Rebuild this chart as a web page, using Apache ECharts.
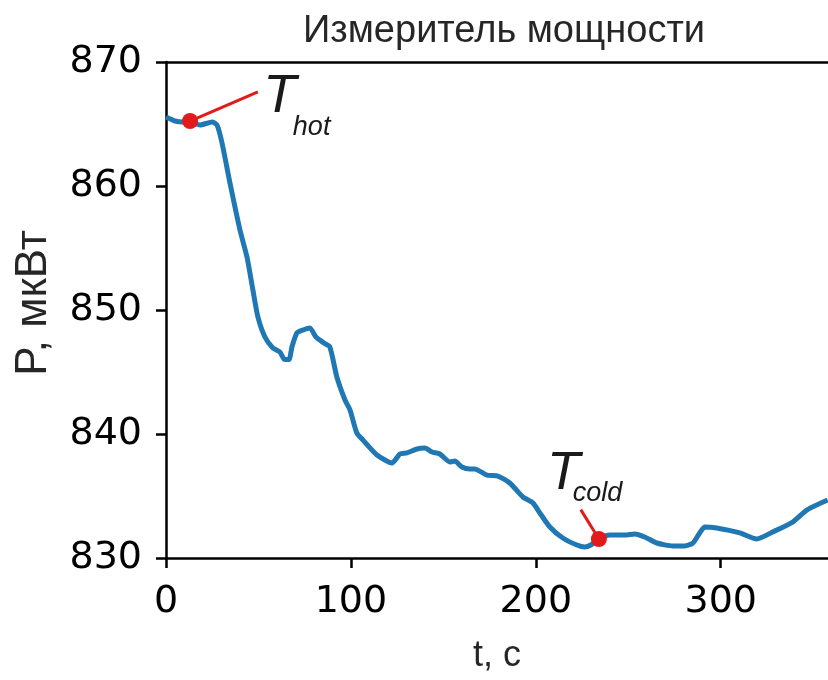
<!DOCTYPE html>
<html><head><meta charset="utf-8">
<script src="https://cdn.jsdelivr.net/npm/echarts@6/dist/echarts.min.js"></script>
<style>html,body{margin:0;padding:0;background:#fff}#c{width:828px;height:680px}</style>
</head><body><div id="c"></div>
<script>
// ---- data ----
const timeS = [0, 4.9, 9.2, 13.0, 18.4, 24.9, 27.6, 30.3, 34.6, 40.0, 43.8, 47.0, 49.7, 53.5, 57.8, 61.6, 63.8, 66.5, 68.1, 70.8, 74.1, 77.8, 81.1, 85.4, 88.6, 92.4, 96.8, 99.5, 103.2, 106.5, 114.1, 122.2, 126.5, 130.3, 135.7, 140.0, 143.8, 148.1, 153.5, 156.2, 160.0, 164.3, 167.0, 173.5, 179.5, 185.9, 193.0, 198.4, 202.2, 207.6, 214.6, 222.2, 226.5, 229.7, 234.1, 240.0, 248.1, 253.5, 258.9, 265.4, 274.1, 280.5, 284.9, 288.6, 291.4, 297.8, 310.3, 319.5, 328.1, 338.9, 346.5, 357.8];
const powerUW = [865.56, 865.24, 865.16, 865.16, 864.92, 865.16, 864.92, 863.47, 860.24, 856.45, 854.27, 851.61, 849.44, 847.82, 846.94, 846.61, 846.05, 846.0, 847.02, 848.15, 848.39, 848.55, 847.82, 847.34, 847.02, 844.60, 842.74, 841.94, 840.08, 839.52, 838.31, 837.66, 838.39, 838.47, 838.79, 838.87, 838.55, 838.39, 837.74, 837.82, 837.34, 837.18, 837.18, 836.69, 836.61, 836.05, 834.92, 834.44, 833.63, 832.50, 831.61, 831.05, 830.89, 831.05, 831.53, 831.85, 831.85, 831.94, 831.69, 831.21, 830.97, 830.97, 831.20, 832.02, 832.50, 832.42, 832.02, 831.53, 832.10, 832.90, 833.87, 834.68];
const xTickValues = [0, 100, 200, 300];
const yTickValues = [830, 840, 850, 860, 870];
const hotPoint = [13.0, 865.24];
const coldPoint = [234.1, 831.53];
const hotLeaderEnd = [49.7, 867.6];
const coldLeaderEnd = [224.3, 833.9];
const hotLabelT = [52.6, 865.65];
const hotLabelSub = [68.6, 863.95];
const coldLabelT = [206.0, 835.22];
const coldLabelSub = [220.0, 834.44];

const RED = '#e31a1c';
const TXT = '#262626';
const SANS = 'Liberation Sans, Arial, sans-serif';
const DJ = 'DejaVu Sans, sans-serif';

function textMark(coord, txt, fs) {
  return {
    coord: coord, symbol: 'circle', symbolSize: 0,
    itemStyle: {color: 'rgba(0,0,0,0)'},
    label: {show: true, formatter: txt, position: 'inside', align: 'left', verticalAlign: 'bottom',
      offset: [0, Math.round(fs * 0.15)], fontSize: fs, fontStyle: 'italic', fontFamily: SANS,
      color: '#1a1a1a', lineHeight: fs}
  };
}

const chart = echarts.init(document.getElementById('c'), null, {renderer: 'canvas'});
chart.setOption({
  animation: false,
  backgroundColor: '#fff',
  title: {text: 'Измеритель мощности', left: 298, top: 8,
    textStyle: {fontSize: 38, fontWeight: 'normal', color: TXT, fontFamily: SANS}},
  grid: {left: 166, right: 0, top: 62, bottom: 122, containLabel: false},
  xAxis: [{
    type: 'value', min: 0, max: 358, interval: 100,
    name: 't, с', nameLocation: 'middle', nameGap: 80,
    nameTextStyle: {fontSize: 36, color: TXT, fontFamily: SANS},
    axisLine: {show: true, lineStyle: {color: '#000', width: 2.5}},
    axisTick: {show: true, length: 10, customValues: xTickValues, lineStyle: {color: '#000', width: 2.5}},
    axisLabel: {fontSize: 38, color: '#000', fontFamily: DJ, margin: 25, customValues: xTickValues},
    splitLine: {show: false}
  }, {
    type: 'value', position: 'top', min: 0, max: 358,
    axisLine: {show: true, lineStyle: {color: '#000', width: 2.5}},
    axisTick: {show: false}, axisLabel: {show: false}, splitLine: {show: false}
  }],
  yAxis: {
    type: 'value', min: yTickValues[0], max: yTickValues[yTickValues.length - 1], interval: 10,
    name: 'P, мкВт', nameLocation: 'middle', nameGap: 110,
    nameTextStyle: {fontSize: 44, color: TXT, fontFamily: SANS, padding: [0, 0, 0, 14]},
    axisLine: {show: true, lineStyle: {color: '#000', width: 2.5}},
    axisTick: {show: true, length: 10, lineStyle: {color: '#000', width: 2.5}},
    axisLabel: {fontSize: 38, color: '#000', fontFamily: DJ, margin: 24},
    splitLine: {show: false}
  },
  series: [{
    type: 'line', xAxisIndex: 0,
    data: timeS.map((t, i) => [t, powerUW[i]]),
    showSymbol: false, smooth: 0.2,
    lineStyle: {color: '#1f77b4', width: 5},
    markLine: {
      silent: true, symbol: ['none', 'none'],
      lineStyle: {color: RED, width: 3, type: 'solid'},
      label: {show: false},
      data: [[{coord: hotPoint}, {coord: hotLeaderEnd}], [{coord: coldPoint}, {coord: coldLeaderEnd}]]
    },
    markPoint: {
      silent: true,
      data: [
        {coord: hotPoint, symbol: 'circle', symbolSize: 16, itemStyle: {color: RED}, label: {show: false}},
        {coord: coldPoint, symbol: 'circle', symbolSize: 16, itemStyle: {color: RED}, label: {show: false}},
        textMark(hotLabelT, 'T', 54),
        textMark(hotLabelSub, 'hot', 27),
        textMark(coldLabelT, 'T', 54),
        textMark(coldLabelSub, 'cold', 27)
      ]
    }
  }]
});
</script></body></html>
